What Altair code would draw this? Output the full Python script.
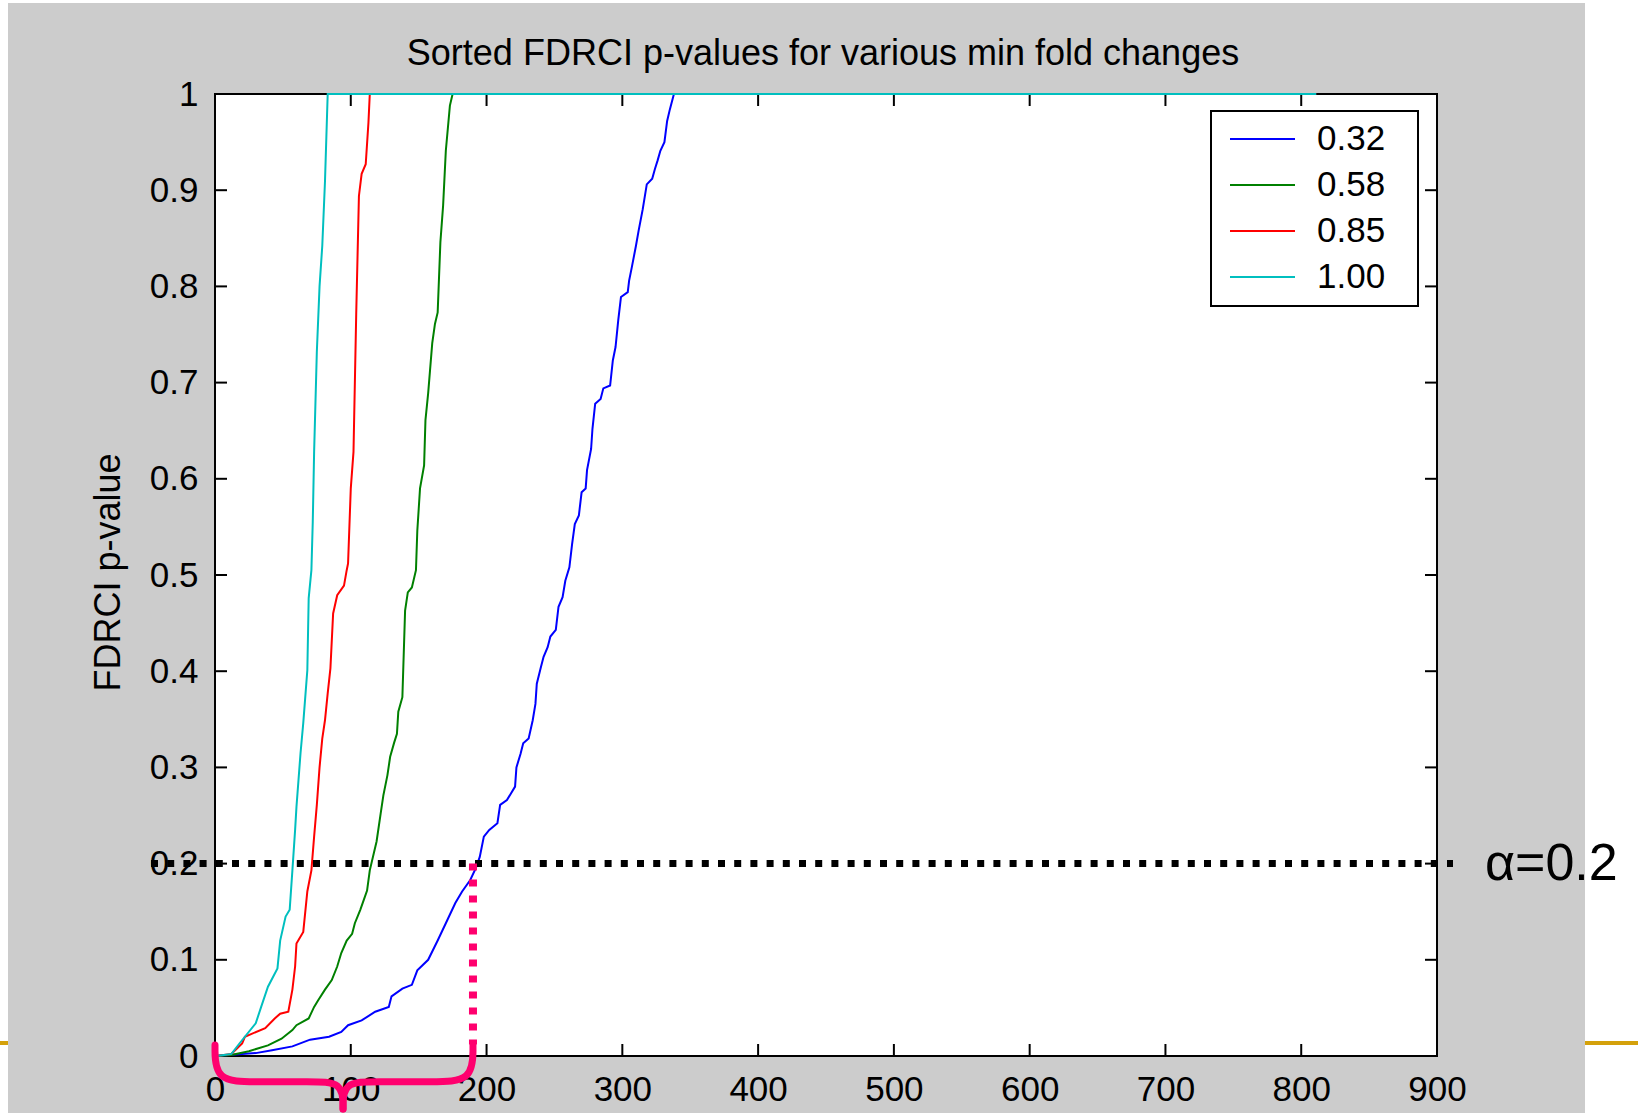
import altair as alt
import pandas as pd

# Sorted FDRCI p-values, one curve per minimum fold change (gene rank -> p-value)
fold_changes = ["0.32", "0.58", "0.85", "1.00"]
line_colors = ["#0000ff", "#008000", "#ff0000", "#00bfbf"]

rank_032 = [1, 10, 20, 30, 42, 57, 70, 84, 93, 98, 108, 118, 128, 130, 138, 145, 149, 157, 164, 170,
            177, 182, 188, 192, 195, 198, 202, 208, 210, 215, 221, 222, 225, 227, 231, 234, 236, 237,
            240, 242, 245, 247, 251, 253, 256, 258, 261, 263, 265, 268, 270, 273, 274, 277, 278, 280,
            284, 286, 291, 293, 295, 297, 299, 304, 305, 307, 310, 312, 315, 318, 322, 324, 326, 328,
            331, 333, 335, 338, 811]
pval_032 = [0.0, 0.001, 0.002, 0.003, 0.006, 0.01, 0.017, 0.02, 0.025, 0.032, 0.037, 0.046, 0.051,
            0.062, 0.07, 0.074, 0.089, 0.1, 0.12, 0.138, 0.159, 0.171, 0.183, 0.195, 0.207, 0.228,
            0.235, 0.242, 0.261, 0.266, 0.28, 0.3, 0.314, 0.325, 0.33, 0.349, 0.366, 0.387, 0.404,
            0.415, 0.425, 0.436, 0.443, 0.467, 0.477, 0.494, 0.508, 0.532, 0.553, 0.562, 0.586, 0.59,
            0.609, 0.631, 0.652, 0.678, 0.683, 0.694, 0.697, 0.723, 0.737, 0.765, 0.789, 0.794, 0.806,
            0.82, 0.842, 0.858, 0.88, 0.906, 0.912, 0.922, 0.931, 0.941, 0.95, 0.972, 0.984, 1.0, 1.0]

rank_058 = [1, 12, 25, 39, 49, 57, 60, 69, 73, 76, 81, 86, 90, 93, 97, 101, 103, 107, 109, 112, 114,
            117, 119, 122, 124, 127, 129, 132, 134, 135, 138, 140, 142, 145, 148, 149, 151, 154, 155,
            157, 160, 162, 164, 166, 168, 170, 173, 175, 811]
pval_058 = [0.0, 0.001, 0.005, 0.011, 0.018, 0.027, 0.032, 0.039, 0.051, 0.058, 0.069, 0.079, 0.093,
            0.107, 0.12, 0.127, 0.138, 0.152, 0.16, 0.172, 0.193, 0.211, 0.223, 0.252, 0.271, 0.292,
            0.311, 0.326, 0.335, 0.358, 0.373, 0.463, 0.482, 0.487, 0.505, 0.546, 0.59, 0.614, 0.661,
            0.689, 0.741, 0.761, 0.773, 0.846, 0.884, 0.941, 0.988, 1.0, 1.0]

rank_085 = [1, 12, 20, 22, 37, 44, 48, 54, 57, 59, 60, 65, 68, 71, 73, 75, 77, 79, 81, 83, 85, 87,
            90, 95, 97, 98, 100, 102, 104, 106, 108, 111, 113, 114, 811]
pval_085 = [0.0, 0.002, 0.013, 0.02, 0.029, 0.039, 0.044, 0.046, 0.069, 0.093, 0.117, 0.129, 0.171,
            0.193, 0.228, 0.261, 0.3, 0.33, 0.349, 0.377, 0.403, 0.46, 0.479, 0.489, 0.505, 0.512,
            0.59, 0.628, 0.771, 0.894, 0.917, 0.927, 0.97, 1.0, 1.0]

rank_100 = [1, 12, 18, 30, 34, 39, 46, 48, 52, 55, 57, 59, 60, 63, 65, 68, 69, 71, 72, 73, 75, 77,
            79, 81, 83, 811]
pval_100 = [0.0, 0.002, 0.013, 0.034, 0.051, 0.072, 0.091, 0.12, 0.145, 0.152, 0.193, 0.235, 0.259,
            0.315, 0.346, 0.401, 0.476, 0.505, 0.555, 0.628, 0.732, 0.8, 0.842, 0.909, 1.0, 1.0]

x_ticks = [0, 100, 200, 300, 400, 500, 600, 700, 800, 900]
y_ticks = [0, 0.1, 0.2, 0.3, 0.4, 0.5, 0.6, 0.7, 0.8, 0.9, 1.0]

chart_title = "Sorted FDRCI p-values for various min fold changes"
y_title = "FDRCI p-value"

# significance cut-off and the number of genes that pass it
alpha = 0.2
alpha_rank = 190

# curly brace under the passing genes, in data units (two halves meeting at the tip)
brace_x = [0, 0, 30, 70, 94.3, 94.3,
           94.3, 94.3, 118.6, 160, 190, 190]
brace_y = [0.0114, -0.0267, -0.0267, -0.0267, -0.0267, -0.0551,
           -0.0551, -0.0267, -0.0267, -0.0267, -0.0267, 0.0114]
brace_side = ["L"] * 6 + ["R"] * 6

W, H = 1222, 962
PINK = "#ff006e"
FONT = "Liberation Sans"

rows = []
for name, ranks, pvals in zip(fold_changes, [rank_032, rank_058, rank_085, rank_100],
                              [pval_032, pval_058, pval_085, pval_100]):
    for i, (r, p) in enumerate(zip(ranks, pvals)):
        rows.append({"fold": name, "step": i, "rank": r, "pvalue": p})
curves = pd.DataFrame(rows)

brace = pd.DataFrame({"x": brace_x, "y": brace_y, "side": brace_side,
                      "k": list(range(len(brace_x)))})

x_scale = alt.Scale(domain=[0, 900], nice=False, zero=False)
y_scale = alt.Scale(domain=[0, 1], nice=False, zero=False)

# one shared definition per axis so every layer agrees when they are merged
x_axis = alt.Axis(
    values=x_ticks, format="d", title=None, labelFont=FONT, labelFontSize=35,
    labelColor="black", labelBaseline="alphabetic", labelPadding=44, labelFlush=False,
    labelOverlap=False, ticks=False, tickSize=0, domain=False, grid=False)
y_axis = alt.Axis(
    values=y_ticks, format=".1~f", title=y_title, titleFont=FONT, titleFontSize=36,
    titleFontWeight="normal", titleColor="black", titleX=-107, titleY=478,
    titleAlign="center", titleBaseline="middle", labelFont=FONT, labelFontSize=35,
    labelColor="black", labelPadding=17, labelOverlap=False, ticks=False, tickSize=0,
    domain=False, grid=False)


def X(field):
    return alt.X(field, scale=x_scale, axis=x_axis)


def Y(field):
    return alt.Y(field, scale=y_scale, axis=y_axis)


one = pd.DataFrame({"k": [0]})


def box(x0, x1, y0, y1, **style):
    return alt.Chart(one).mark_rect(**style).encode(
        x=alt.value(x0), x2=alt.value(x1), y=alt.value(y0), y2=alt.value(y1))


def gold(x0, x1):
    return alt.Chart(one).mark_rule(color="#d4a10b", strokeWidth=4).encode(
        x=alt.value(x0), x2=alt.value(x1), y=alt.value(949))


frame = alt.Chart(pd.DataFrame({"x0": [0], "x1": [900], "y0": [0], "y1": [1]})).mark_rect(
    fill="white", stroke="black", strokeWidth=2
).encode(x=X("x0:Q"), x2="x1:Q", y=Y("y0:Q"), y2="y1:Q")

xt = pd.DataFrame({"t": x_ticks})
yt = pd.DataFrame({"t": y_ticks})
tick = dict(color="black", strokeWidth=2)
ticks_bottom = alt.Chart(xt).mark_rule(**tick).encode(
    x=X("t:Q"), y=alt.value(H), y2=alt.value(H - 12))
ticks_top = alt.Chart(xt).mark_rule(**tick).encode(
    x=X("t:Q"), y=alt.value(0), y2=alt.value(12))
ticks_left = alt.Chart(yt).mark_rule(**tick).encode(
    y=Y("t:Q"), x=alt.value(0), x2=alt.value(12))
ticks_right = alt.Chart(yt).mark_rule(**tick).encode(
    y=Y("t:Q"), x=alt.value(W), x2=alt.value(W - 12))

lines = alt.Chart(curves).mark_line(strokeWidth=2, clip=False).encode(
    x=X("rank:Q"),
    y=Y("pvalue:Q"),
    color=alt.Color("fold:N", scale=alt.Scale(domain=fold_changes, range=line_colors),
                    legend=alt.Legend(
                        title=None, orient="none", legendX=996, legendY=17, padding=10,
                        symbolType="stroke", symbolSize=4225, symbolStrokeWidth=2,
                        symbolOffset=8, clipHeight=36, rowPadding=10, labelOffset=21,
                        labelFont=FONT, labelFontSize=35, labelColor="black")),
    order="step:Q",
)

# framed white panel behind the legend entries
legend_box = box(996, 1203, 17, 212, fill="white", stroke="black", strokeWidth=2)

threshold = alt.Chart(pd.DataFrame({"p": [alpha]})).mark_rule(
    color="black", strokeWidth=7, strokeDash=[7, 9.2]
).encode(y=Y("p:Q"), x=alt.value(-64), x2=alt.value(1238))

cut = alt.Chart(pd.DataFrame({"r": [alpha_rank], "p": [alpha], "p0": [0.012]})).mark_rule(
    color=PINK, strokeWidth=8, strokeDash=[7, 9]
).encode(x=X("r:Q"), y=Y("p:Q"), y2="p0:Q")

brace_line = alt.Chart(brace).mark_line(
    color=PINK, strokeWidth=7, interpolate="basis", strokeCap="round", strokeJoin="round",
    clip=False
).encode(x=X("x:Q"), y=Y("y:Q"), detail="side:N", order="k:Q")

alpha_label = alt.Chart(pd.DataFrame({"label": [f"α={alpha}"], "p": [alpha]})).mark_text(
    font=FONT, fontSize=52, color="black", align="left", baseline="middle"
).encode(x=alt.value(1270), y=Y("p:Q"), text="label:N")

title = alt.Chart(pd.DataFrame({"label": [chart_title]})).mark_text(
    font=FONT, fontSize=36, color="black", align="center", baseline="alphabetic"
).encode(x=alt.value(608), y=alt.value(-29), text="label:N")

chart = alt.layer(
    box(-215, -207, -94, 1019, color="white"),
    box(-215, 1423, -94, -91, color="white"),
    box(1370, 1423, -94, 1019, color="white"),
    gold(-215, -207),
    gold(1370, 1423),
    frame,
    ticks_bottom, ticks_top, ticks_left, ticks_right,
    lines,
    legend_box,
    threshold,
    cut,
    brace_line,
    alpha_label,
    title,
).properties(
    width=W, height=H,
    autosize=alt.AutoSizeParams(type="none"),
    padding={"left": 215, "top": 94, "right": 201, "bottom": 57},
).configure(
    background="#cccccc",
).configure_view(
    stroke="transparent",
)

chart.save("out.html", embed_options={"renderer": "svg", "actions": False})
